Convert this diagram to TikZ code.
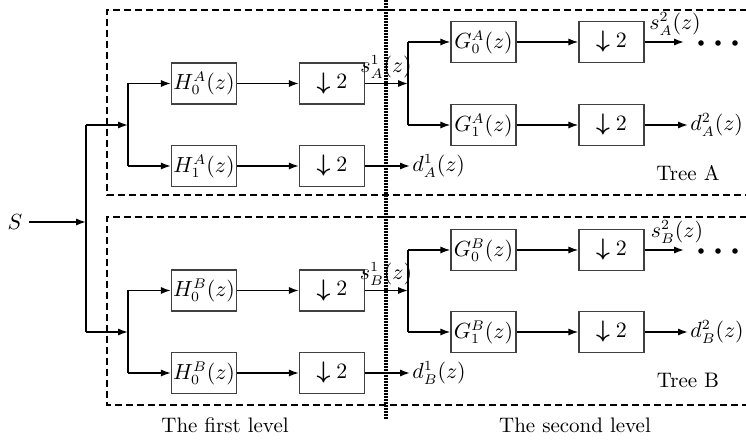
\documentclass[tikz,border=0pt]{standalone}
\usepackage{bm}
\usetikzlibrary{arrows.meta}
\newcommand{\dsamp}{$\vcenter{\hbox{\large$\bm{\downarrow}$}}\;2$}
\begin{document}
\begin{tikzpicture}[x=0.5pt,y=-0.5pt,
  font=\fontsize{10.5}{12.5}\selectfont,
  blk/.style={draw=black!75,line width=0.65pt,minimum width=32.5pt,minimum height=20.5pt,inner sep=0pt},
  sig/.style={line width=0.75pt,-{Latex[length=5pt,width=3.6pt]}},
  wire/.style={line width=0.75pt},
  frame/.style={line width=1.25pt,dash pattern=on 3.5pt off 2pt},
  sep/.style={line width=1.6pt,dash pattern=on 0.8pt off 0.7pt},
  lbl/.style={inner sep=1pt}]
\useasboundingbox (0,0) rectangle (746,443);
% frames
\draw[frame] (780,10) -- (107,10) -- (107,195) -- (780,195);
\draw[frame] (780,217) -- (107,217) -- (107,405) -- (780,405);
\draw[sep] (386,0) -- (386,419);
% tree A blocks
\node[blk] (h0a) at (204,83.5) {$H_0^A(z)$};
\node[blk] (d0a) at (332,83.5) {\dsamp};
\node[blk] (h1a) at (204,166) {$H_1^A(z)$};
\node[blk] (d1a) at (332,166) {\dsamp};
\node[blk] (g0a) at (483.5,42) {$G_0^A(z)$};
\node[blk] (e0a) at (611.5,42) {\dsamp};
\node[blk] (g1a) at (483.5,125) {$G_1^A(z)$};
\node[blk] (e1a) at (611.5,125) {\dsamp};
% tree B blocks
\node[blk] (h0b) at (204,290.5) {$H_0^B(z)$};
\node[blk] (d0b) at (332,290.5) {\dsamp};
\node[blk] (h1b) at (204,373) {$H_0^B(z)$};
\node[blk] (d1b) at (332,373) {\dsamp};
\node[blk] (g0b) at (483.5,250) {$G_0^B(z)$};
\node[blk] (e0b) at (611.5,250) {\dsamp};
\node[blk] (g1b) at (483.5,332) {$G_1^B(z)$};
\node[blk] (e1b) at (611.5,332) {\dsamp};
% input
\node (s) at (15,222) {$S$};
\coordinate (j0) at (86,222);
\coordinate (j0a) at (86,125);
\coordinate (j0b) at (86,332);
\coordinate (ja) at (128,125);
\coordinate (jb) at (128,332);
\coordinate (ja0) at (128,83.5);
\coordinate (ja1) at (128,166);
\coordinate (jb0) at (128,290.5);
\coordinate (jb1) at (128,373);
\draw[sig] (s) -- (j0);
\draw[wire] (j0a) -- (j0b);
\draw[sig] (j0a) -- (ja);
\draw[sig] (j0b) -- (jb);
\draw[wire] (ja0) -- (ja1);
\draw[wire] (jb0) -- (jb1);
\draw[sig] (ja0) -- (h0a);
\draw[sig] (ja1) -- (h1a);
\draw[sig] (jb0) -- (h0b);
\draw[sig] (jb1) -- (h1b);
\draw[sig] (h0a) -- (d0a);
\draw[sig] (h1a) -- (d1a);
\draw[sig] (h0b) -- (d0b);
\draw[sig] (h1b) -- (d1b);
% level 1 outputs
\coordinate (ka) at (408,83.5);
\coordinate (kb) at (408,290.5);
\coordinate (ka0) at (408,42);
\coordinate (ka1) at (408,125);
\coordinate (kb0) at (408,250);
\coordinate (kb1) at (408,332);
\draw[sig] (d0a) -- (ka);
\draw[sig] (d0b) -- (kb);
\node[lbl] (sa1) at (386,67) {$s_A^1(z)$};
\node[lbl] (sb1) at (386,274) {$s_B^1(z)$};
\draw[wire] (ka0) -- (ka1);
\draw[wire] (kb0) -- (kb1);
\draw[sig] (ka0) -- (g0a);
\draw[sig] (ka1) -- (g1a);
\draw[sig] (kb0) -- (g0b);
\draw[sig] (kb1) -- (g1b);
\node[lbl,anchor=west] (da1) at (410,166) {$d_A^1(z)$};
\node[lbl,anchor=west] (db1) at (410,373) {$d_B^1(z)$};
\draw[sig] (d1a) -- (da1);
\draw[sig] (d1b) -- (db1);
% level 2
\draw[sig] (g0a) -- (e0a);
\draw[sig] (g1a) -- (e1a);
\draw[sig] (g0b) -- (e0b);
\draw[sig] (g1b) -- (e1b);
\coordinate (oa) at (684,42);
\coordinate (ob) at (684,250);
\draw[sig] (e0a) -- (oa);
\draw[sig] (e0b) -- (ob);
\node[lbl] (sa2) at (675,24) {$s_A^2(z)$};
\node[lbl] (sb2) at (677,232) {$s_B^2(z)$};
\node[lbl,anchor=west] (da2) at (688,125) {$d_A^2(z)$};
\node[lbl,anchor=west] (db2) at (688,332) {$d_B^2(z)$};
\draw[sig] (e1a) -- (da2);
\draw[sig] (e1b) -- (db2);
\foreach \xx in {701,718,735}{
  \fill (\xx,43) circle (1.4pt);
  \fill (\xx,251) circle (1.4pt);
}
\node (ta) at (688,173) {Tree A};
\node (tb) at (688,380) {Tree B};
\node (l1) at (225,425) {The first level};
\node (l2) at (575,425) {The second level};
\end{tikzpicture}
\end{document}
